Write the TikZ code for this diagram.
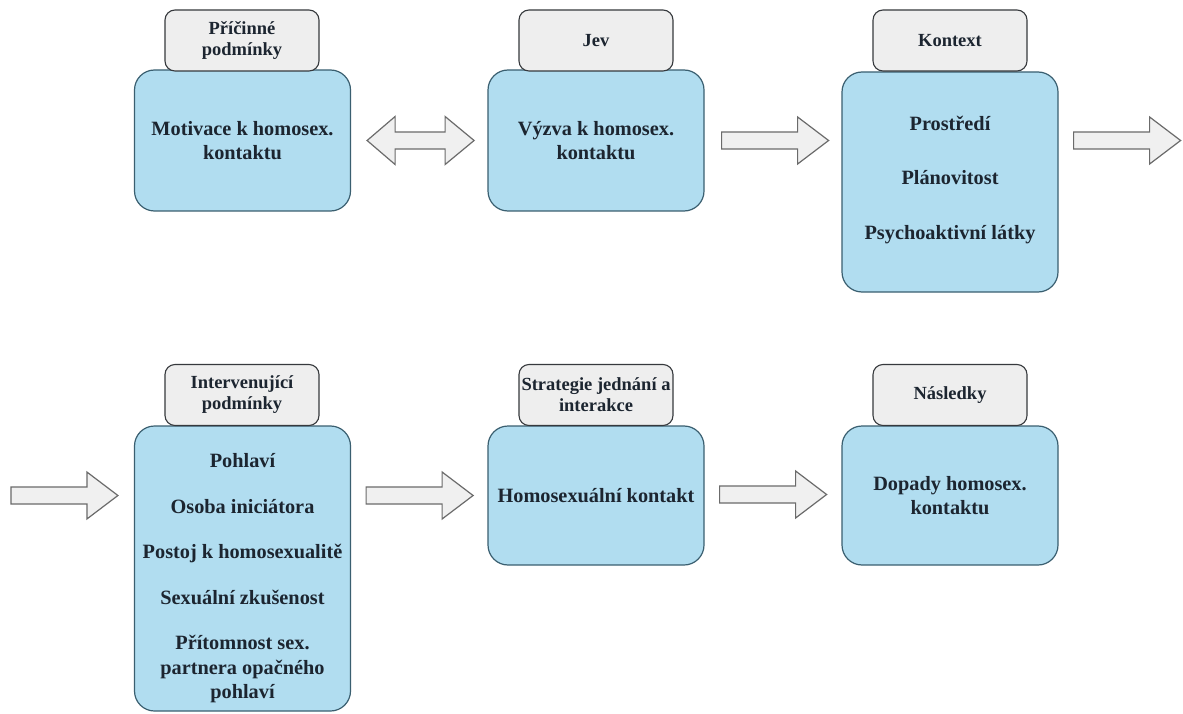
\documentclass[tikz,border=0pt]{standalone}
\usepackage{fontspec}
\setmainfont{Liberation Serif}
\usetikzlibrary{calc}
\definecolor{boxblue}{HTML}{B1DDF0}
\definecolor{boxline}{HTML}{3A5F70}
\definecolor{lblfill}{HTML}{EEEEEE}
\definecolor{lblline}{HTML}{36393D}
\definecolor{arrfill}{HTML}{F0F0F0}
\definecolor{arrline}{HTML}{6B6B6B}
\definecolor{txt}{HTML}{1C2530}
\begin{document}
\begin{tikzpicture}[x=1pt,y=-1pt,
  bluebox/.style={draw=boxline, fill=boxblue, rounded corners=20pt, line width=1.2pt,
    minimum width=216pt, align=center, text=txt,
    font=\fontsize{20.3}{24.5}\selectfont\bfseries, inner sep=0pt},
  boxtext/.style={align=center, text=txt, font=\fontsize{20.3}{24.5}\selectfont\bfseries, inner sep=0pt},
  labelbox/.style={draw=lblline, fill=lblfill, rounded corners=10pt, line width=1.1pt,
    minimum width=154pt, minimum height=61pt, align=center, text=txt,
    font=\fontsize{18.5}{21}\selectfont\bfseries, inner sep=0pt},
  arrowline/.style={draw=arrline, fill=arrfill, line width=1.2pt, line join=miter},
  blockarrow/.pic={\path[arrowline] (0,-8.5) -- (76,-8.5) -- (76,-23.5) -- (107,0) -- (76,23.5) -- (76,8.5) -- (0,8.5) -- cycle;},
  dblarrow/.pic={\path[arrowline] (0,0) -- (28,-24) -- (28,-8.5) -- (78,-8.5) -- (78,-24) -- (107,0) -- (78,24) -- (78,8.5) -- (28,8.5) -- (28,24) -- cycle;}
]
\useasboundingbox (0,0) rectangle (1183,714);
\fill[white] (0,0) rectangle (1183,714);

% top row
\node[bluebox, minimum height=141pt] (b1) at (242.5,140.5) {Motivace k homosex.\\kontaktu};
\node[bluebox, minimum height=141pt] (b2) at (596,140.5) {Výzva k homosex.\\kontaktu};
\node[bluebox, minimum height=220pt] (b3) at (950,182) {};
\node[boxtext] (t3) at ($(b3.center)+(0,-2)$) {Prostředí\\[30pt]Plánovitost\\[30pt]Psychoaktivní látky};

\node[labelbox] (l1) at (242,40.5) {Příčinné\\podmínky};
\node[labelbox] (l2) at (596,40.5) {Jev};
\node[labelbox] (l3) at (950,40.5) {Kontext};

% bottom row
\node[bluebox, minimum height=285pt] (b4) at (242.5,568.5) {};
\node[boxtext] (t4) at ($(b4.center)+(0,10)$) {Pohlaví\\[21pt]Osoba iniciátora\\[21pt]Postoj k homosexualitě\\[21pt]Sexuální zkušenost\\[21pt]Přítomnost sex.\\partnera opačného\\pohlaví};
\node[bluebox, minimum height=139pt] (b5) at (596,495.5) {Homosexuální kontakt};
\node[bluebox, minimum height=139pt] (b6) at (950,495.5) {Dopady homosex.\\kontaktu};

\node[labelbox] (l4) at (242,395) {Intervenující\\podmínky};
\node[labelbox] (l5) at (596,395) {Strategie jednání a\\interakce};
\node[labelbox] (l6) at (950,395) {Následky};

% block arrows
\pic at ($(b1.east)+(16,0)$) {dblarrow};
\pic at ($(b2.east)+(17,0)$) {blockarrow};
\pic at ($(b3.east |- b2.east)+(15,0)$) {blockarrow};
\pic at ($(b4.west |- b5.center)+(-123,0)$) {blockarrow};
\pic at ($(b4.east |- b5.center)+(15,0)$) {blockarrow};
\pic at ($(b5.east)+(15,-1)$) {blockarrow};
\end{tikzpicture}
\end{document}
